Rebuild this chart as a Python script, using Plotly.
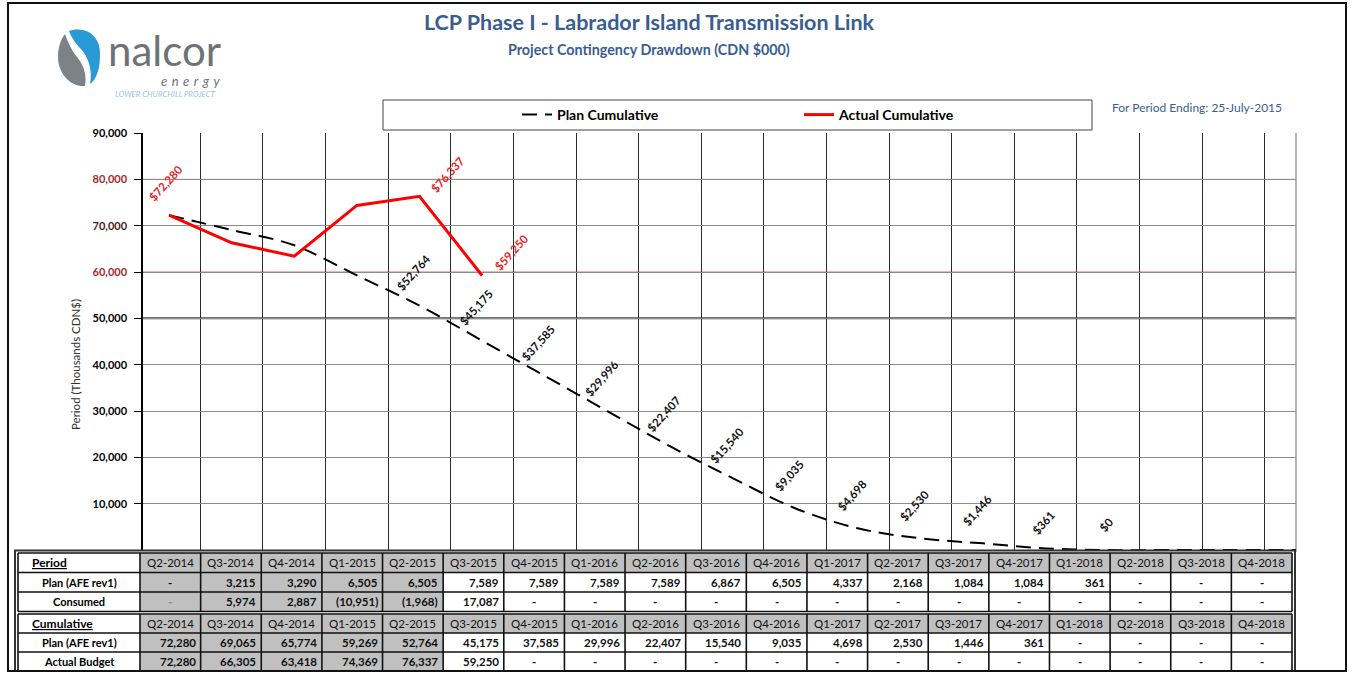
import plotly.graph_objects as go

# ---------------- data ----------------
quarters = ['Q2-2014', 'Q3-2014', 'Q4-2014', 'Q1-2015', 'Q2-2015', 'Q3-2015', 'Q4-2015',
            'Q1-2016', 'Q2-2016', 'Q3-2016', 'Q4-2016', 'Q1-2017', 'Q2-2017', 'Q3-2017',
            'Q4-2017', 'Q1-2018', 'Q2-2018', 'Q3-2018', 'Q4-2018']
period_plan = [0, 3215, 3290, 6505, 6505, 7589, 7589, 7589, 7589, 6867, 6505, 4337,
               2168, 1084, 1084, 361, 0, 0, 0]
period_consumed = [0, 5974, 2887, -10951, -1968, 17087, None, None, None, None, None,
                   None, None, None, None, None, None, None, None]
plan_cumulative = [72280, 69065, 65774, 59269, 52764, 45175, 37585, 29996, 22407, 15540,
                   9035, 4698, 2530, 1446, 361, 0, 0, 0, 0]
actual_cumulative = [72280, 66305, 63418, 74369, 76337, 59250, None, None, None, None,
                     None, None, None, None, None, None, None, None, None]
plan_label_idx = [4, 5, 6, 7, 8, 9, 10, 11, 12, 13, 14, 15]
actual_label_idx = [0, 4, 5]
y_ticks = [10000, 20000, 30000, 40000, 50000, 60000, 70000, 80000, 90000]
row_labels = ['Period', 'Plan (AFE rev1)', 'Consumed', 'Cumulative', 'Plan (AFE rev1)', 'Actual Budget']

# ---------------- geometry helpers (pixel -> paper) ----------------
W, H = 1353, 673
ML, MR, MT, MB = 18, 57, 133, 2
PW, PH = W - ML - MR, H - MT - MB


def px(x):
    return (x - ML) / PW


def py(y):
    return (H - MB - y) / PH


def P(x, y):
    return f"{px(x):.5f},{py(y):.5f}"


BLUE = '#3a5d8f'
FONT = 'Lato, Open Sans, sans-serif'
GREY = '#c0c0c0'


def fmt(v):
    if v is None or v == 0:
        return '-'
    if v < 0:
        return '({:,})'.format(-v)
    return '{:,}'.format(v)


fig = go.Figure()
fig.add_trace(go.Scatter(
    x=quarters, y=plan_cumulative, name='Plan Cumulative', mode='lines',
    line=dict(color='black', width=2, dash='15px,8px', shape='spline', smoothing=1.0),
    hoverinfo='x+y'))
fig.add_trace(go.Scatter(
    x=quarters, y=actual_cumulative, name='Actual Cumulative', mode='lines',
    line=dict(color='#ff0000', width=3), hoverinfo='x+y'))

ann = []
shapes = []

# ---------------- table (drawn with shapes + text) ----------------
n_closed = 5
tab_left, tab_lab, tab_right = 18, 140, 1292
colw = (tab_right - tab_lab) / len(quarters)
col_edges = [tab_left] + [tab_lab + colw * k for k in range(len(quarters) + 1)]
row_edges = [553, 572.5, 592, 611.5, 614, 633, 652, 671]
row_spans = [(row_edges[0], row_edges[1]), (row_edges[1], row_edges[2]), (row_edges[2], row_edges[3]),
             (row_edges[4], row_edges[5]), (row_edges[5], row_edges[6]), (row_edges[6], row_edges[7])]
table_rows = [
    quarters,
    [fmt(v) for v in period_plan],
    [fmt(v) for v in period_consumed],
    quarters,
    [fmt(v) for v in plan_cumulative],
    [fmt(v) for v in actual_cumulative],
]
header_rows = (0, 3)

for r, (y0, y1) in enumerate(row_spans):
    for c in range(len(quarters)):
        x0, x1 = col_edges[c + 1], col_edges[c + 2]
        grey = (r in header_rows) or (c < n_closed)
        if grey:
            shapes.append(dict(type='rect', xref='paper', yref='paper', x0=px(x0), x1=px(x1),
                               y0=py(y1), y1=py(y0), fillcolor=GREY, line=dict(width=0)))
        v = table_rows[r][c]
        ym = py((y0 + y1) / 2)
        if r in header_rows:
            ann.append(dict(text=v, x=px((x0 + x1) / 2), y=ym, xanchor='center',
                            font=dict(family=FONT, size=11.5, color='#111')))
        elif v == '-':
            col = '#888' if (r == 2 and c == 0) else '#111'
            ann.append(dict(text='<b>-</b>', x=px((x0 + x1) / 2), y=ym, xanchor='center',
                            font=dict(family=FONT, size=11.5, color=col)))
        else:
            ann.append(dict(text='<b>' + v + '</b>', x=px(x1 - 3), y=ym, xanchor='right',
                            font=dict(family=FONT, size=11.5, color='#111')))
    lab = row_labels[r]
    ym = py((y0 + y1) / 2)
    if r in header_rows:
        ann.append(dict(text='<b><u>' + lab + '</u></b>', x=px(30), y=ym, xanchor='left',
                        font=dict(family=FONT, size=12, color='black')))
    else:
        ann.append(dict(text='<b>' + lab + '</b>', x=px(79), y=ym, xanchor='center',
                        font=dict(family=FONT, size=11, color='black')))

for yy in row_edges:
    shapes.append(dict(type='line', xref='paper', yref='paper', x0=px(tab_left), x1=px(tab_right),
                       y0=py(yy), y1=py(yy), line=dict(color='#111', width=1.5)))
for xx in col_edges:
    for (a, b) in [(row_edges[0], row_edges[3]), (row_edges[4], row_edges[7])]:
        shapes.append(dict(type='line', xref='paper', yref='paper', x0=px(xx), x1=px(xx),
                           y0=py(b), y1=py(a), line=dict(color='#111', width=1.6)))
shapes.append(dict(type='rect', xref='paper', yref='paper', x0=px(15), x1=px(1295), y0=py(671), y1=py(550.5),
                   line=dict(color='#333', width=2)))

# ---------------- text annotations ----------------
top = []
top.append(dict(text='<b>LCP Phase I - Labrador Island Transmission Link</b>', x=px(649), y=py(22),
                font=dict(family=FONT, size=21.5, color=BLUE)))
top.append(dict(text='<b>Project Contingency Drawdown (CDN $000)</b>', x=px(649), y=py(50),
                font=dict(family=FONT, size=14.3, color=BLUE)))
top.append(dict(text='For Period Ending: 25-July-2015', x=px(1197), y=py(108),
                font=dict(family=FONT, size=12, color=BLUE)))
top.append(dict(text='Period (Thousands CDN$)', x=px(75), y=py(365), textangle=-90,
                font=dict(family=FONT, size=11.5, color='#333')))
top.append(dict(text='nalcor', x=px(164), y=py(50), font=dict(family=FONT, size=42, color='#6d7278')))
top.append(dict(text='<i><span style="letter-spacing:4.5px">energy</span></i>', x=px(192), y=py(81),
                font=dict(family=FONT, size=13, color='#6d7278')))
top.append(dict(text='<i>LOWER CHURCHILL PROJECT</i>', x=px(165), y=py(94),
                font=dict(family=FONT, size=7.8, color='#9cc3e4')))
ann = top + ann
for a in ann:
    a.update(xref='paper', yref='paper', showarrow=False, yanchor='middle')
    a.setdefault('xanchor', 'center')

for i in plan_label_idx:
    txt = '$' + '{:,}'.format(plan_cumulative[i])
    short = len(txt) <= 4
    ann.append(dict(x=quarters[i], y=plan_cumulative[i], xref='x', yref='y', showarrow=False,
                    text='<b>' + txt + '</b>', textangle=-48,
                    xshift=-2 if short else -6, yshift=26 if short else 33,
                    font=dict(family=FONT, size=11.5, color='#111')))
actual_shift = {0: (-4, 32), 4: (28, 22), 5: (29, 23)}
for i in actual_label_idx:
    txt = '$' + '{:,}'.format(actual_cumulative[i])
    sx, sy = actual_shift[i]
    ann.append(dict(x=quarters[i], y=actual_cumulative[i], xref='x', yref='y', showarrow=False,
                    text='<b>' + txt + '</b>', textangle=-48, xshift=sx, yshift=sy,
                    font=dict(family=FONT, size=11.5, color='#e8231f')))

# ---------------- other shapes ----------------
for yv, col, wd in [(80000, '#f29a9a', 1.3), (60000, '#f29a9a', 1.3), (50000, '#444444', 2)]:
    shapes.append(dict(type='line', xref='paper', yref='y', x0=px(143), x1=px(1296), y0=yv, y1=yv,
                       line=dict(color=col, width=wd), layer='between'))
shapes.append(dict(type='line', xref='paper', yref='paper', x0=px(1296), x1=px(1296), y0=py(552), y1=py(133),
                   line=dict(color='#9a9a9a', width=1.5), layer='between'))
shapes.append(dict(type='rect', xref='paper', yref='paper', x0=px(383), x1=px(1092), y0=py(130), y1=py(100),
                   line=dict(color='#444', width=1)))
shapes.append(dict(type='rect', xref='paper', yref='paper', x0=px(8), x1=px(1346), y0=py(671), y1=py(3),
                   line=dict(color='#111', width=2)))
blue_path = ('M ' + P(69, 31) + ' C ' + P(88, 25) + ' ' + P(101, 38) + ' ' + P(100, 55) +
             ' C ' + P(100, 70) + ' ' + P(96, 80) + ' ' + P(90, 84) +
             ' C ' + P(93, 70) + ' ' + P(88, 56) + ' ' + P(80, 48) +
             ' C ' + P(74, 42) + ' ' + P(71, 36) + ' ' + P(69, 31) + ' Z')
grey_path = ('M ' + P(65, 34) + ' C ' + P(68, 43) + ' ' + P(72, 51) + ' ' + P(77, 57) +
             ' C ' + P(84, 65) + ' ' + P(87, 76) + ' ' + P(85, 86) +
             ' C ' + P(70, 87) + ' ' + P(58, 73) + ' ' + P(58, 57) +
             ' C ' + P(58, 47) + ' ' + P(61, 39) + ' ' + P(65, 34) + ' Z')
shapes.append(dict(type='path', xref='paper', yref='paper', path=blue_path,
                   fillcolor='#2a9ad6', line=dict(width=0)))
shapes.append(dict(type='path', xref='paper', yref='paper', path=grey_path,
                   fillcolor='#7c8288', line=dict(width=0)))

tick_text = []
for t in y_ticks:
    s = '{:,}'.format(t)
    if t in (80000, 60000):
        s = '<span style="color:#a52a2a">' + s + '</span>'
    elif t == 70000:
        s = '<span style="color:#4a1a1a">' + s + '</span>'
    tick_text.append('<b>' + s + '</b>')

fig.update_layout(
    width=W, height=H,
    margin=dict(l=ML, r=MR, t=MT, b=MB, autoexpand=False),
    paper_bgcolor='white', plot_bgcolor='white',
    font=dict(family=FONT, color='black'),
    xaxis=dict(domain=[px(143), px(1296)], type='category', tickson='boundaries',
               showgrid=True, gridcolor='#2a2a2a', gridwidth=1.3, showticklabels=False,
               ticks='', showline=False, zeroline=False, fixedrange=True),
    yaxis=dict(domain=[py(551), 1], range=[-200, 90000], tickvals=y_ticks, ticktext=tick_text,
               showgrid=True, gridcolor='#8c8c8c', gridwidth=1, zeroline=False,
               showline=True, linecolor='black', linewidth=1.5, ticks='outside', ticklen=7,
               tickcolor='black', tickfont=dict(family=FONT, size=11, color='black'),
               ticklabelstandoff=5, fixedrange=True),
    showlegend=True,
    legend=dict(orientation='h', x=px(517), y=py(115), xanchor='left', yanchor='middle',
                entrywidth=237, entrywidthmode='pixels', bgcolor='rgba(0,0,0,0)',
                font=dict(family=FONT, size=14, color='black', weight='bold')),
    annotations=ann, shapes=shapes,
)

fig.write_html('out.html', config={'displayModeBar': False},
               post_script="document.body.style.margin='0px';document.body.style.overflow='hidden';")
